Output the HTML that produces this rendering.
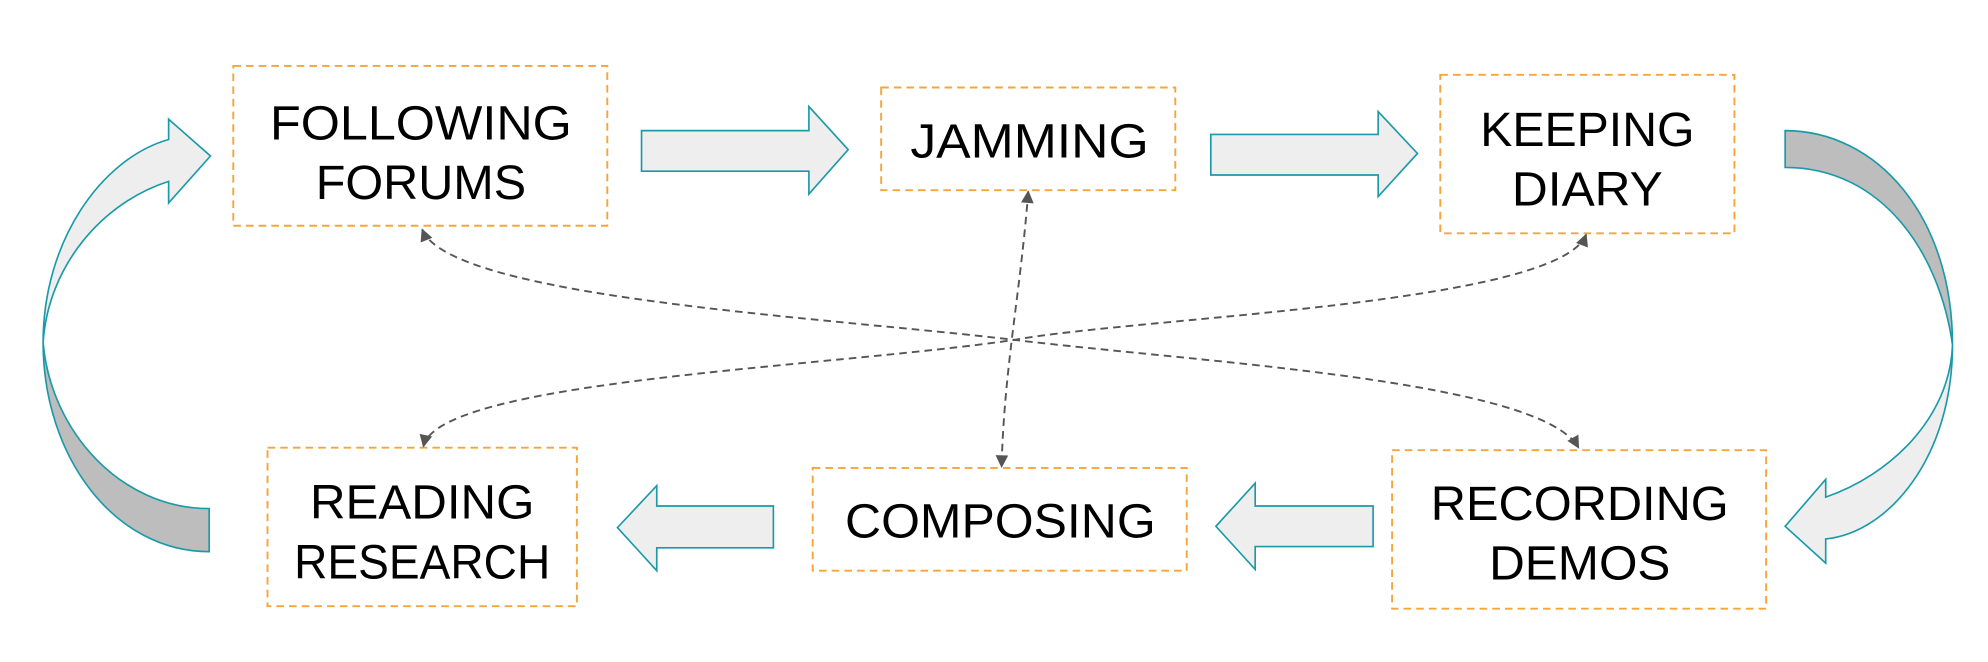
<!DOCTYPE html>
<html><head><meta charset="utf-8"><style>
html,body{margin:0;padding:0;background:#fff;width:1988px;height:662px;overflow:hidden}
svg{display:block}
text{font-family:"Liberation Sans",sans-serif;font-size:38px;fill:#000;text-anchor:middle}
</style></head><body>
<svg width="1988" height="662" viewBox="0 0 1568 522" preserveAspectRatio="none" xmlns="http://www.w3.org/2000/svg">
<defs>
<marker id="ah" viewBox="0 0 10 10" refX="9" refY="5" markerWidth="11" markerHeight="10" orient="auto-start-reverse" markerUnits="userSpaceOnUse">
<path d="M0,0 L10,5 L0,10 Z" fill="#555"/></marker>
</defs>
<g fill="#fff" stroke="#f5a53a" stroke-width="1.5" stroke-dasharray="6,4">
<rect x="184" y="52" width="295" height="126"/>
<rect x="695" y="69" width="232" height="81"/>
<rect x="1136" y="59" width="232" height="125"/>
<rect x="211" y="353" width="244" height="125"/>
<rect x="641" y="369" width="295" height="81"/>
<rect x="1098" y="355" width="295" height="125"/>
</g>
<g fill="none" stroke="#555" stroke-width="1.5" stroke-dasharray="6,4" marker-start="url(#ah)" marker-end="url(#ah)">
<path d="M333,181 C355,235 650,250 800,268 C950,286 1215,300 1245,353"/>
<path d="M1251,185 C1230,240 900,250 800,268 C650,290 345,300 334,352"/>
<path d="M811,151 C805,230 792,290 790,368"/>
</g>
<g stroke="#1a9aa8" stroke-width="1.3" stroke-linejoin="miter">
<path fill="#eee" d="M506,103 L638,103 L638,84 L669,118 L638,153 L638,135 L506,135 Z"/>
<path fill="#eee" d="M955,106 L1087,106 L1087,88 L1118,121 L1087,155 L1087,138 L955,138 Z"/>
<path fill="#eee" d="M1083,399 L990,399 L990,381 L959,415 L990,449 L990,431 L1083,431 Z"/>
<path fill="#eee" d="M610,399 L518,399 L518,383 L487,416 L518,450 L518,432 L610,432 Z"/>
<path fill="#bdbdbd" d="M1408,103 C1480,103 1540,170 1540,272 C1530,200 1485,132 1408,132 Z"/>
<path fill="#eee" d="M1540,272 C1540,360 1490,420 1440,425 L1440,444 L1408,415 L1440,378 L1440,392 C1490,375 1538,330 1540,272 Z"/>
<path fill="#bdbdbd" d="M34,270 C34,360 90,435 165,435 L165,401 C95,401 40,340 34,270 Z"/>
<path fill="#eee" d="M34,270 C34,190 80,125 133,110 L133,94 L166,123 L133,160 L133,143 C80,160 38,210 34,270 Z"/>
</g>
<text x="332" y="110" textLength="238" lengthAdjust="spacingAndGlyphs">FOLLOWING</text>
<text x="332" y="157" textLength="166" lengthAdjust="spacingAndGlyphs">FORUMS</text>
<text x="812" y="124" textLength="188" lengthAdjust="spacingAndGlyphs">JAMMING</text>
<text x="1252" y="115" textLength="169" lengthAdjust="spacingAndGlyphs">KEEPING</text>
<text x="1252" y="162" textLength="119" lengthAdjust="spacingAndGlyphs">DIARY</text>
<text x="333" y="409" textLength="177" lengthAdjust="spacingAndGlyphs">READING</text>
<text x="333" y="456" textLength="202" lengthAdjust="spacingAndGlyphs">RESEARCH</text>
<text x="789" y="424" textLength="245" lengthAdjust="spacingAndGlyphs">COMPOSING</text>
<text x="1246" y="410" textLength="235" lengthAdjust="spacingAndGlyphs">RECORDING</text>
<text x="1246" y="457" textLength="143" lengthAdjust="spacingAndGlyphs">DEMOS</text>
</svg>
</body></html>
